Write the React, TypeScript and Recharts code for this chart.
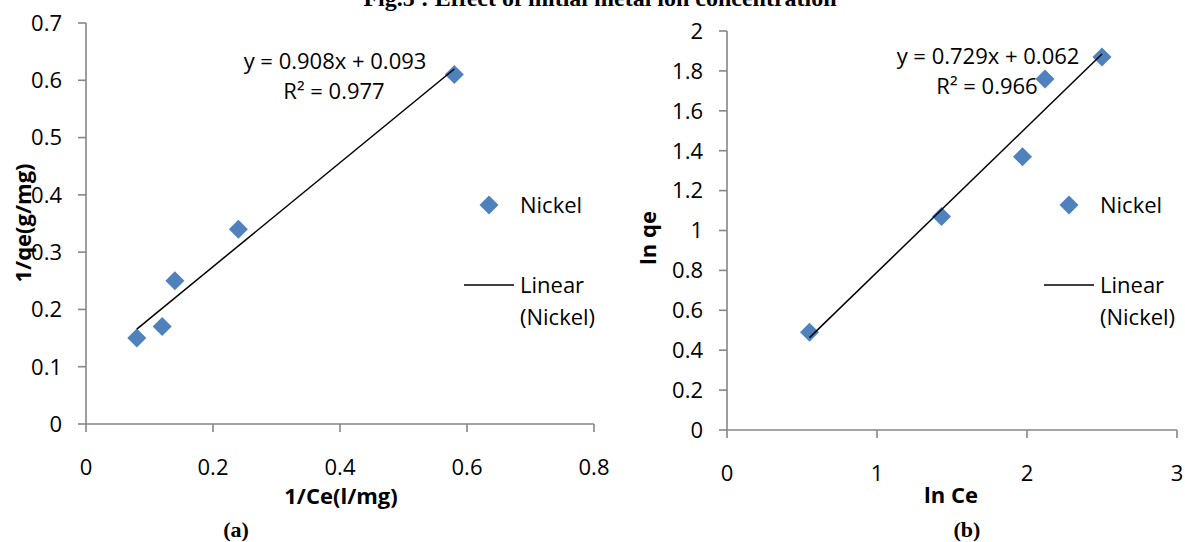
import React from "react";
import { ScatterChart, Scatter, XAxis, YAxis } from "recharts";

// Langmuir plot (a): 1/Ce vs 1/qe
const langX = [0.08, 0.12, 0.14, 0.24, 0.58];
const langY = [0.15, 0.17, 0.25, 0.34, 0.61];
const langFit = { slope: 0.908, intercept: 0.093, r2: "0.977" };
const langXTicks = [0, 0.2, 0.4, 0.6, 0.8];
const langYTicks = [0, 0.1, 0.2, 0.3, 0.4, 0.5, 0.6, 0.7];

// Freundlich plot (b): ln Ce vs ln qe
const freuX = [0.55, 1.43, 1.97, 2.12, 2.5];
const freuY = [0.49, 1.07, 1.37, 1.76, 1.87];
const freuFit = { slope: 0.729, intercept: 0.062, r2: "0.966" };
const freuXTicks = [0, 1, 2, 3];
const freuYTicks = [0, 0.2, 0.4, 0.6, 0.8, 1, 1.2, 1.4, 1.6, 1.8, 2];

const BLUE = "#4f81bd";
const AXIS = "#868686";
const FONT = "'Open Sans', sans-serif";
const SERIF = "'Liberation Serif', serif";

const toPoints = (xs: number[], ys: number[]) => xs.map((x, i) => ({ x, y: ys[i] }));

// trendline endpoints span the data range
const fitLine = (xs: number[], fit: { slope: number; intercept: number }) => {
  const lo = Math.min(...xs);
  const hi = Math.max(...xs);
  return [lo, hi].map((x) => ({ x, y: fit.slope * x + fit.intercept }));
};

const Diamond = ({ cx, cy }: any) => {
  const r = 9.5;
  return <path d={`M${cx},${cy - r}L${cx + r},${cy}L${cx},${cy + r}L${cx - r},${cy}Z`} fill={BLUE} />;
};

const NoDot = () => <g />;

const tick = { fill: "#000", fontSize: 22, fontFamily: FONT };

type PanelProps = {
  xs: number[];
  ys: number[];
  fit: { slope: number; intercept: number };
  xTicks: number[];
  yTicks: number[];
  width: number;
  left: number;
  axisLeft: number; // width reserved for the y axis
  axisBottom: number; // height reserved for the x axis
  top: number;
  right: number;
};

function Panel({ xs, ys, fit, xTicks, yTicks, width, left, axisLeft, axisBottom, top, right }: PanelProps) {
  return (
    <div style={{ position: "absolute", left, top: 0 }}>
      <ScatterChart width={width} height={542} margin={{ top, right, bottom: 0, left: 0 }}>
        <XAxis
          type="number"
          dataKey="x"
          domain={[xTicks[0], xTicks[xTicks.length - 1]]}
          ticks={xTicks}
          height={axisBottom}
          tick={tick}
          tickSize={8}
          tickMargin={27}
          axisLine={{ stroke: AXIS, strokeWidth: 1.6 }}
          tickLine={{ stroke: AXIS, strokeWidth: 1.6 }}
        />
        <YAxis
          type="number"
          dataKey="y"
          domain={[yTicks[0], yTicks[yTicks.length - 1]]}
          ticks={yTicks}
          width={axisLeft}
          tick={tick}
          tickSize={8}
          tickMargin={16}
          axisLine={{ stroke: AXIS, strokeWidth: 1.6 }}
          tickLine={{ stroke: AXIS, strokeWidth: 1.6 }}
        />
        <Scatter data={toPoints(xs, ys)} shape={Diamond} isAnimationActive={false} />
        <Scatter
          data={fitLine(xs, fit)}
          shape={NoDot}
          line={{ stroke: "#000", strokeWidth: 1.5 }}
          isAnimationActive={false}
        />
      </ScatterChart>
    </div>
  );
}

function LegendBlock({ x }: { x: number }) {
  return (
    <g fontFamily={FONT} fontSize={22} fill="#000">
      <Diamond cx={x - 31} cy={205} />
      <text x={x} y={205} dy="0.35em">Nickel</text>
      <line x1={x - 56} x2={x - 6} y1={285} y2={285} stroke="#000" strokeWidth={1.5} />
      <text x={x} y={285} dy="0.35em">Linear</text>
      <text x={x} y={317} dy="0.35em">(Nickel)</text>
    </g>
  );
}

const fmtEq = (f: { slope: number; intercept: number }) =>
  `y = ${f.slope.toFixed(3)}x + ${f.intercept.toFixed(3)}`;

const axisTitle = { fontFamily: FONT, fontWeight: "bold" as const, fontSize: 22 };
const caption = { fontFamily: SERIF, fontWeight: "bold" as const, fontSize: 22 };

export default function App() {
  return (
    <div style={{ position: "absolute", left: 0, top: 0, width: 1185, height: 542, background: "#fff" }}>
      <Panel
        xs={langX}
        ys={langY}
        fit={langFit}
        xTicks={langXTicks}
        yTicks={langYTicks}
        width={620}
        left={0}
        axisLeft={86}
        axisBottom={118}
        top={23}
        right={26}
      />
      <Panel
        xs={freuX}
        ys={freuY}
        fit={freuFit}
        xTicks={freuXTicks}
        yTicks={freuYTicks}
        width={585}
        left={600}
        axisLeft={127}
        axisBottom={112}
        top={31}
        right={8}
      />
      <svg width={1185} height={542} style={{ position: "absolute", left: 0, top: 0, pointerEvents: "none" }}>
        <text x={600} y={6} textAnchor="middle" fontFamily={SERIF} fontWeight="bold" fontSize={24}>
          Fig.5 : Effect of initial metal ion concentration
        </text>

        {/* panel (a) */}
        <g fontFamily={FONT} fontSize={22} textAnchor="middle">
          <text x={335} y={61} dy="0.35em">{fmtEq(langFit)}</text>
          <text x={334} y={91} dy="0.35em">R² = {langFit.r2}</text>
        </g>
        <text x={23} y={223} dy="0.35em" transform="rotate(-90 23 223)" textAnchor="middle" {...axisTitle}>
          1/qe(g/mg)
        </text>
        <text x={341} y={496} dy="0.35em" textAnchor="middle" {...axisTitle}>
          1/Ce(l/mg)
        </text>
        <text x={236} y={529} dy="0.35em" textAnchor="middle" {...caption}>
          (a)
        </text>
        <LegendBlock x={520} />

        {/* panel (b) */}
        <g fontFamily={FONT} fontSize={22} textAnchor="middle">
          <text x={988} y={56} dy="0.35em">{fmtEq(freuFit)}</text>
          <text x={987} y={86} dy="0.35em">R² = {freuFit.r2}</text>
        </g>
        <text x={648} y={238} dy="0.35em" transform="rotate(-90 648 238)" textAnchor="middle" {...axisTitle}>
          ln qe
        </text>
        <text x={951} y={495} dy="0.35em" textAnchor="middle" {...axisTitle}>
          ln Ce
        </text>
        <text x={967} y={529} dy="0.35em" textAnchor="middle" {...caption}>
          (b)
        </text>
        <LegendBlock x={1100} />
      </svg>
    </div>
  );
}
